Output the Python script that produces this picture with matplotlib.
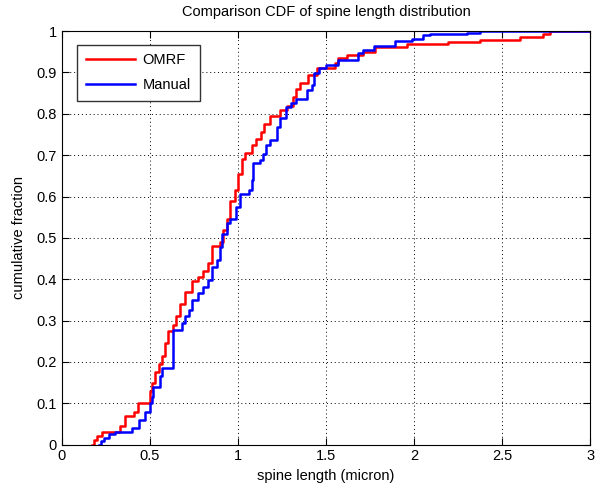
import numpy as np
import matplotlib
matplotlib.use('Agg')
import matplotlib.pyplot as plt

plt.rcParams['font.family'] = ['Liberation Sans', 'DejaVu Sans']

# OMRF curve: step positions (micron) and cumulative fraction after each step
omrf_x = [0.17, 0.18, 0.20, 0.23, 0.33, 0.36, 0.41, 0.43, 0.50, 0.51, 0.53, 0.55,
          0.566, 0.585, 0.60, 0.63, 0.65, 0.67, 0.70, 0.737, 0.775, 0.80, 0.83, 0.85,
          0.90, 0.917, 0.936, 0.955, 0.983, 1.00, 1.02, 1.04, 1.08, 1.10, 1.13, 1.15,
          1.18, 1.24, 1.28, 1.31, 1.33, 1.35, 1.40, 1.45, 1.55, 1.57, 1.62, 1.71, 1.78,
          1.96, 2.19, 2.375, 2.60, 2.73, 2.77, 3.0]
omrf_y = [0.0, 0.01, 0.02, 0.03, 0.045, 0.07, 0.08, 0.10, 0.13, 0.15, 0.175, 0.195,
          0.215, 0.245, 0.275, 0.29, 0.31, 0.34, 0.37, 0.395, 0.405, 0.42, 0.44, 0.48,
          0.49, 0.52, 0.545, 0.59, 0.615, 0.655, 0.69, 0.705, 0.725, 0.74, 0.755, 0.775,
          0.795, 0.81, 0.82, 0.84, 0.86, 0.875, 0.895, 0.912, 0.922, 0.934, 0.942, 0.95,
          0.962, 0.97, 0.974, 0.978, 0.986, 0.992, 1.0, 1.0]

# Manual curve
manual_x = [0.21, 0.22, 0.24, 0.27, 0.30, 0.40, 0.44, 0.47, 0.50, 0.51, 0.52, 0.557,
            0.566, 0.63, 0.68, 0.70, 0.72, 0.737, 0.775, 0.80, 0.83, 0.85, 0.88, 0.90,
            0.907, 0.936, 0.955, 0.99, 1.01, 1.06, 1.08, 1.087, 1.125, 1.14, 1.16, 1.18,
            1.22, 1.24, 1.27, 1.30, 1.33, 1.39, 1.42, 1.43, 1.46, 1.50, 1.57, 1.68, 1.71,
            1.77, 1.89, 1.99, 2.05, 2.09, 2.30, 2.375, 3.0]
manual_y = [0.0, 0.008, 0.017, 0.025, 0.03, 0.04, 0.06, 0.08, 0.10, 0.115, 0.14, 0.165,
            0.185, 0.277, 0.295, 0.31, 0.325, 0.35, 0.366, 0.382, 0.398, 0.43, 0.446, 0.478,
            0.51, 0.535, 0.545, 0.575, 0.607, 0.615, 0.64, 0.68, 0.688, 0.704, 0.724, 0.736,
            0.769, 0.79, 0.817, 0.825, 0.837, 0.857, 0.869, 0.898, 0.91, 0.918, 0.93, 0.947,
            0.955, 0.963, 0.975, 0.982, 0.99, 0.992, 0.995, 1.0, 1.0]

xticks = [0, 0.5, 1, 1.5, 2, 2.5, 3]
yticks = np.round(np.arange(0, 1.01, 0.1), 1)

fig = plt.figure(figsize=(5.95, 4.94), dpi=100)
ax = fig.add_axes([0.104, 0.1, 0.888, 0.837])

ax.step(omrf_x, omrf_y, where='post', color='#ff0000', lw=1.8, label='OMRF')
ax.step(manual_x, manual_y, where='post', color='#0000ff', lw=1.8, label='Manual')

ax.set_xlim(0, 3)
ax.set_ylim(0, 1)
ax.set_xticks(xticks)
ax.set_xticklabels(['0', '0.5', '1', '1.5', '2', '2.5', '3'])
ax.set_yticks(yticks)
ax.set_yticklabels(['0'] + [f'{v:g}' for v in yticks[1:-1]] + ['1'])

ax.grid(True, color='k', linestyle=(0, (1, 3)), linewidth=0.7)
ax.tick_params(direction='in', top=True, right=True, length=5, labelsize=10.5)
for s in ax.spines.values():
    s.set_linewidth(0.8)

ax.set_xlabel('spine length (micron)', fontsize=10.5, labelpad=4)
ax.set_ylabel('cumulative fraction', fontsize=10.5, labelpad=8)
ax.set_title('Comparison CDF of spine length distribution', fontsize=10.5, pad=11)

leg = ax.legend(loc='upper left', bbox_to_anchor=(0.015, 0.985), fontsize=10.5,
                handlelength=3.4, fancybox=False, framealpha=1, edgecolor='#333333',
                borderpad=0.6, labelspacing=0.75, handletextpad=0.5)
leg.get_frame().set_linewidth(1.0)

fig.savefig('out.png', dpi=100)
